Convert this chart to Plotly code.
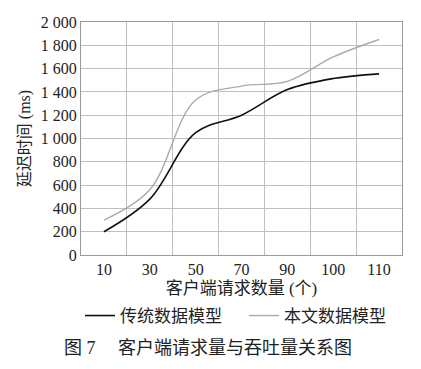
import plotly.graph_objects as go

categories = ["10", "30", "50", "70", "90", "100", "110"]
traditional = [200, 480, 1050, 1200, 1420, 1515, 1555]
proposed = [300, 560, 1330, 1450, 1490, 1700, 1850]
y_ticks = [0, 200, 400, 600, 800, 1000, 1200, 1400, 1600, 1800, 2000]
y_ticktext = ["0", "200", "400", "600", "800", "1 000", "1 200", "1 400", "1 600", "1 800", "2 000"]

FONT = "Liberation Serif, Noto Sans CJK SC, sans-serif"

fig = go.Figure()
fig.add_trace(go.Scatter(
    x=categories, y=traditional, mode="lines", name="传统数据模型",
    line=dict(color="#111111", width=1.6, shape="spline", smoothing=1.0),
))
fig.add_trace(go.Scatter(
    x=categories, y=proposed, mode="lines", name="本文数据模型",
    line=dict(color="#aaaaaa", width=1.4, shape="spline", smoothing=1.0),
))

fig.update_layout(
    width=421, height=369,
    margin=dict(l=81, r=19, t=22, b=114),
    paper_bgcolor="white", plot_bgcolor="white",
    font=dict(family=FONT, size=15, color="#222222"),
    showlegend=True,
    legend=dict(
        orientation="h", xref="paper", yref="paper",
        x=-1 / 321, xanchor="left", y=-(316 - 255) / 233, yanchor="middle",
        font=dict(size=17, family=FONT, color="#222222"),
        entrywidth=119, entrywidthmode="pixels",
        itemwidth=30,
    ),
    xaxis=dict(
        type="category", range=[-0.5, 6.5],
        tickson="boundaries", ticks="",
        showgrid=True, gridcolor="#bfbfbf", gridwidth=1,
        showline=True, linecolor="#9a9a9a", linewidth=1, mirror=True,
        tickfont=dict(size=16, family=FONT, color="#222222"),
        title=dict(text="客户端请求数量 (个)", standoff=4,
                   font=dict(size=17, family=FONT, color="#222222")),
        fixedrange=True,
    ),
    yaxis=dict(
        range=[0, 2000], tickvals=y_ticks, ticktext=y_ticktext,
        showgrid=True, gridcolor="#bfbfbf", gridwidth=1,
        showline=True, linecolor="#9a9a9a", linewidth=1, mirror=True,
        ticks="", ticklen=0,
        tickfont=dict(size=16, family=FONT, color="#222222"),
        title=dict(text="延迟时间 (ms)", standoff=6,
                   font=dict(size=16, family=FONT, color="#222222")),
        fixedrange=True,
    ),
    annotations=[
        dict(text="图 7     客户端请求量与吞吐量关系图", xref="paper", yref="paper",
             x=(62 - 81) / 321, y=-(348 - 255) / 233, xanchor="left", yanchor="middle",
             showarrow=False,
             font=dict(size=18, family=FONT, color="#222222")),
    ],
)

fig.write_html("out.html", config={"displayModeBar": False},
               post_script="document.body.style.margin='0';")
